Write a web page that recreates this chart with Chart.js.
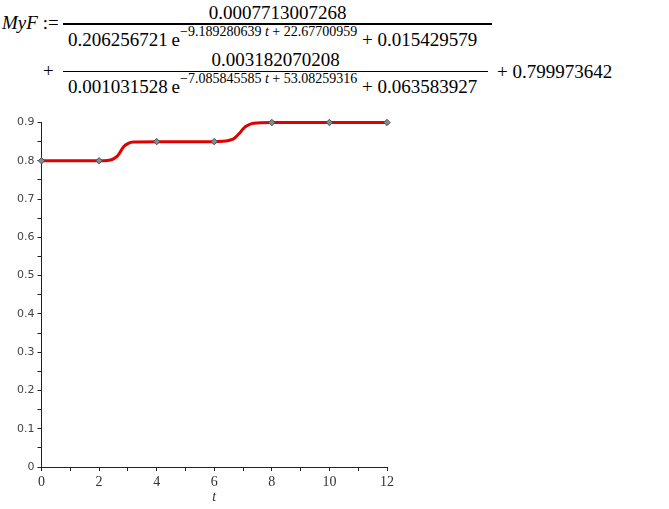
<!DOCTYPE html>
<html>
<head>
<meta charset="utf-8">
<script src="https://cdn.jsdelivr.net/npm/chart.js@4.4.0/dist/chart.umd.js"></script>
<style>
  html, body { margin: 0; padding: 0; background: #fff; }
  #wrap { position: relative; width: 669px; height: 509px; overflow: hidden; }
  #plot { position: absolute; left: 0; top: 0; }
  .m { position: absolute; font-family: 'Liberation Serif', 'DejaVu Serif', serif; font-size: 19px; color: #000; white-space: nowrap; line-height: 1; }
  .bar { position: absolute; height: 1.5px; background: #000; }
  sup { font-size: 14px; vertical-align: baseline; position: relative; top: -10px; }
  i { font-style: italic; }
</style>
</head>
<body>
<div id="wrap">
  <div class="m" style="left:2px; top:13px;"><i>MyF</i> :=</div>
  <div class="m" style="left:63px; width:429px; text-align:center; top:3px;">0.0007713007268</div>
  <div class="bar" style="left:63px; top:23px; width:429px;"></div>
  <div class="m" style="left:68px; top:30px;">0.206256721&#8201;e<sup>&#8722;9.189280639 <i>t</i> + 22.67700959</sup> + 0.015429579</div>
  <div class="m" style="left:43px; top:61px;">+</div>
  <div class="m" style="left:63px; width:425px; text-align:center; top:50px;">0.003182070208</div>
  <div class="bar" style="left:63px; top:70.5px; width:425px;"></div>
  <div class="m" style="left:68px; top:77px;">0.001031528&#8201;e<sup>&#8722;7.085845585 <i>t</i> + 53.08259316</sup> + 0.063583927</div>
  <div class="m" style="left:497px; top:62px;">+ 0.799973642</div>
  <canvas id="plot" width="669" height="509"></canvas>
</div>
<script>
// curve MyF(t), values
const curveT = [0, 2, 2.3, 2.4, 2.5, 2.6, 2.7, 2.8, 2.9, 3.0, 3.1, 3.2, 4, 6, 6.3, 6.5, 6.6, 6.7, 6.8, 6.9, 7.0, 7.1, 7.2, 7.3, 7.5, 8, 10, 12];
const curveY = [0.8, 0.8, 0.801, 0.802, 0.805, 0.810, 0.819, 0.831, 0.840, 0.845, 0.848, 0.849, 0.85, 0.85, 0.851, 0.853, 0.855, 0.859, 0.866, 0.874, 0.883, 0.890, 0.894, 0.897, 0.899, 0.9, 0.9, 0.9];
// data points (diamonds)
const pointT = [0, 2, 4, 6, 8, 10, 12];
const pointY = [0.8, 0.8, 0.85, 0.85, 0.9, 0.9, 0.9];
// axis ticks
const xLabels = [0, 2, 4, 6, 8, 10, 12];
const yLabels = ['0', '0.1', '0.2', '0.3', '0.4', '0.5', '0.6', '0.7', '0.8', '0.9'];

const toXY = (xs, ys) => xs.map((x, i) => ({ x, y: ys[i] }));

new Chart(document.getElementById('plot'), {
    type: 'scatter',
    data: {
        datasets: [{
            data: toXY(pointT, pointY),
            showLine: false,
            pointStyle: 'rectRot',
            pointRadius: 3.2,
            backgroundColor: '#8a8a92',
            borderColor: '#4a4a52',
            borderWidth: 1,
            clip: false
        }, {
            data: toXY(curveT, curveY),
            showLine: true,
            borderColor: '#e00000',
            borderWidth: 3,
            pointRadius: 0,
            cubicInterpolationMode: 'monotone',
            clip: false
        }]
    },
    options: {
        responsive: false,
        animation: false,
        events: [],
        layout: { padding: { left: 0, top: 122.5, right: 282, bottom: 0 } },
        plugins: { legend: { display: false }, tooltip: { enabled: false } },
        scales: {
            x: {
                type: 'linear',
                min: 0, max: 12,
                afterFit: s => { s.height = 42; },
                border: { display: true, color: '#222', width: 1 },
                grid: { drawOnChartArea: false, drawTicks: true, tickLength: 4, color: '#222' },
                ticks: {
                    stepSize: 1,
                    autoSkip: false,
                    maxRotation: 0,
                    padding: 3,
                    color: '#333',
                    font: { family: "'Liberation Serif', serif", size: 14 },
                    callback: v => xLabels.includes(v) ? String(v) : ''
                },
                title: {
                    display: true,
                    text: 't',
                    color: '#333',
                    padding: { top: 0, bottom: 3 },
                    font: { family: "'Liberation Serif', serif", size: 14, style: 'italic' }
                }
            },
            y: {
                min: 0, max: 0.9,
                afterFit: s => { s.width = 41.5; },
                border: { display: true, color: '#222', width: 1 },
                grid: { drawOnChartArea: false, drawTicks: true, tickLength: 4, color: '#222' },
                ticks: {
                    stepSize: 0.05,
                    autoSkip: false,
                    padding: 3,
                    color: '#444',
                    font: { family: "'DejaVu Sans', sans-serif", size: 11 },
                    callback: (v, i) => i % 2 ? '' : yLabels[i / 2]
                }
            }
        }
    }
});
</script>
</body>
</html>
